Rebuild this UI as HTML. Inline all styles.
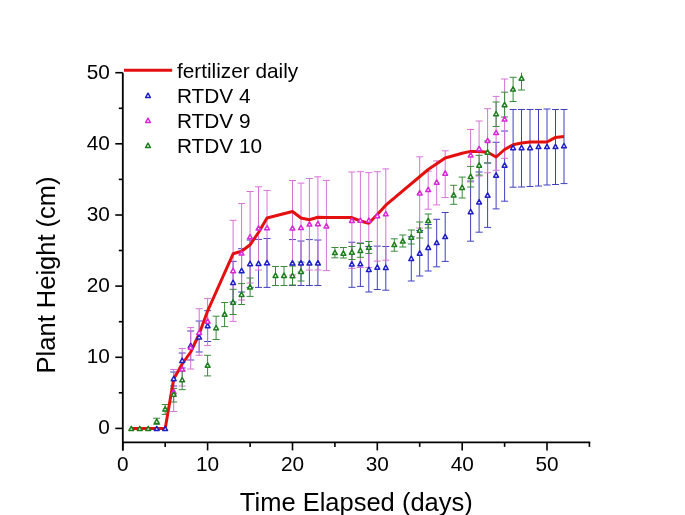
<!DOCTYPE html>
<html><head><meta charset="utf-8"><style>
html,body{margin:0;padding:0;background:#fff;width:685px;height:515px;overflow:hidden}
svg{display:block;will-change:transform}
text{font-family:"Liberation Sans",sans-serif}
</style></head><body>
<svg width="685" height="515" viewBox="0 0 685 515" font-family="'Liberation Sans', sans-serif" fill="#000">
<rect width="685" height="515" fill="#fff"/>
<path d="M122.8,72.7V450.5M122,442.4H590.3" stroke="#000" stroke-width="1.8" fill="none"/>
<path d="M115.3,428.4H122.8" stroke="#000" stroke-width="1.6"/>
<path d="M118.8,392.8H122.8" stroke="#000" stroke-width="1.6"/>
<path d="M115.3,357.3H122.8" stroke="#000" stroke-width="1.6"/>
<path d="M118.8,321.7H122.8" stroke="#000" stroke-width="1.6"/>
<path d="M115.3,286.1H122.8" stroke="#000" stroke-width="1.6"/>
<path d="M118.8,250.5H122.8" stroke="#000" stroke-width="1.6"/>
<path d="M115.3,215.0H122.8" stroke="#000" stroke-width="1.6"/>
<path d="M118.8,179.4H122.8" stroke="#000" stroke-width="1.6"/>
<path d="M115.3,143.8H122.8" stroke="#000" stroke-width="1.6"/>
<path d="M118.8,108.3H122.8" stroke="#000" stroke-width="1.6"/>
<path d="M115.3,72.7H122.8" stroke="#000" stroke-width="1.6"/>
<path d="M122.8,442.4V450.4" stroke="#000" stroke-width="1.6"/>
<path d="M165.2,442.4V446.9" stroke="#000" stroke-width="1.6"/>
<path d="M207.6,442.4V450.4" stroke="#000" stroke-width="1.6"/>
<path d="M250.1,442.4V446.9" stroke="#000" stroke-width="1.6"/>
<path d="M292.5,442.4V450.4" stroke="#000" stroke-width="1.6"/>
<path d="M334.9,442.4V446.9" stroke="#000" stroke-width="1.6"/>
<path d="M377.3,442.4V450.4" stroke="#000" stroke-width="1.6"/>
<path d="M419.7,442.4V446.9" stroke="#000" stroke-width="1.6"/>
<path d="M462.2,442.4V450.4" stroke="#000" stroke-width="1.6"/>
<path d="M504.6,442.4V446.9" stroke="#000" stroke-width="1.6"/>
<path d="M547.0,442.4V450.4" stroke="#000" stroke-width="1.6"/>
<path d="M589.4,442.4V446.9" stroke="#000" stroke-width="1.6"/>
<text x="109.9" y="434.2" text-anchor="end" font-size="20.8">0</text>
<text x="109.9" y="363.1" text-anchor="end" font-size="20.8">10</text>
<text x="109.9" y="291.9" text-anchor="end" font-size="20.8">20</text>
<text x="109.9" y="220.8" text-anchor="end" font-size="20.8">30</text>
<text x="109.9" y="149.6" text-anchor="end" font-size="20.8">40</text>
<text x="109.9" y="78.5" text-anchor="end" font-size="20.8">50</text>
<text x="122.8" y="471.3" text-anchor="middle" font-size="20.8">0</text>
<text x="207.6" y="471.3" text-anchor="middle" font-size="20.8">10</text>
<text x="292.5" y="471.3" text-anchor="middle" font-size="20.8">20</text>
<text x="377.3" y="471.3" text-anchor="middle" font-size="20.8">30</text>
<text x="462.2" y="471.3" text-anchor="middle" font-size="20.8">40</text>
<text x="547.0" y="471.3" text-anchor="middle" font-size="20.8">50</text>
<text x="356.3" y="511.3" text-anchor="middle" font-size="25.5">Time Elapsed (days)</text>
<text transform="translate(54.7,274.9) rotate(-90)" text-anchor="middle" font-size="25.5">Plant Height (cm)</text>
<path d="M173.7,372.0V386.0M170.2,372.0H177.2M170.2,386.0H177.2" stroke="#4040c0" stroke-width="1" fill="none"/>
<path d="M182.2,353.0V368.0M178.7,353.0H185.7M178.7,368.0H185.7" stroke="#4040c0" stroke-width="1" fill="none"/>
<path d="M190.7,331.0V360.0M187.2,331.0H194.2M187.2,360.0H194.2" stroke="#4040c0" stroke-width="1" fill="none"/>
<path d="M199.2,321.0V352.0M195.7,321.0H202.7M195.7,352.0H202.7" stroke="#4040c0" stroke-width="1" fill="none"/>
<path d="M207.6,310.7V341.5M204.1,310.7H211.1M204.1,341.5H211.1" stroke="#4040c0" stroke-width="1" fill="none"/>
<path d="M233.1,261.4V302.0M229.6,261.4H236.6M229.6,302.0H236.6" stroke="#4040c0" stroke-width="1" fill="none"/>
<path d="M241.6,248.7V292.0M238.1,248.7H245.1M238.1,292.0H245.1" stroke="#4040c0" stroke-width="1" fill="none"/>
<path d="M250.1,240.0V287.4M246.6,240.0H253.6M246.6,287.4H253.6" stroke="#4040c0" stroke-width="1" fill="none"/>
<path d="M258.5,239.4V287.4M255.0,239.4H262.0M255.0,287.4H262.0" stroke="#4040c0" stroke-width="1" fill="none"/>
<path d="M267.0,238.5V287.4M263.5,238.5H270.5M263.5,287.4H270.5" stroke="#4040c0" stroke-width="1" fill="none"/>
<path d="M292.5,239.6V285.5M289.0,239.6H296.0M289.0,285.5H296.0" stroke="#4040c0" stroke-width="1" fill="none"/>
<path d="M301.0,241.0V285.5M297.5,241.0H304.5M297.5,285.5H304.5" stroke="#4040c0" stroke-width="1" fill="none"/>
<path d="M309.4,239.6V285.5M305.9,239.6H312.9M305.9,285.5H312.9" stroke="#4040c0" stroke-width="1" fill="none"/>
<path d="M317.9,240.0V285.5M314.4,240.0H321.4M314.4,285.5H321.4" stroke="#4040c0" stroke-width="1" fill="none"/>
<path d="M351.9,242.2V287.3M348.4,242.2H355.4M348.4,287.3H355.4" stroke="#4040c0" stroke-width="1" fill="none"/>
<path d="M360.4,243.0V286.4M356.9,243.0H363.9M356.9,286.4H363.9" stroke="#4040c0" stroke-width="1" fill="none"/>
<path d="M368.8,246.5V292.0M365.3,246.5H372.3M365.3,292.0H372.3" stroke="#4040c0" stroke-width="1" fill="none"/>
<path d="M377.3,246.1V289.5M373.8,246.1H380.8M373.8,289.5H380.8" stroke="#4040c0" stroke-width="1" fill="none"/>
<path d="M385.8,246.5V290.2M382.3,246.5H389.3M382.3,290.2H389.3" stroke="#4040c0" stroke-width="1" fill="none"/>
<path d="M411.3,236.8V281.0M407.8,236.8H414.8M407.8,281.0H414.8" stroke="#4040c0" stroke-width="1" fill="none"/>
<path d="M419.7,230.5V276.0M416.2,230.5H423.2M416.2,276.0H423.2" stroke="#4040c0" stroke-width="1" fill="none"/>
<path d="M428.2,224.5V271.0M424.7,224.5H431.7M424.7,271.0H431.7" stroke="#4040c0" stroke-width="1" fill="none"/>
<path d="M436.7,219.3V266.8M433.2,219.3H440.2M433.2,266.8H440.2" stroke="#4040c0" stroke-width="1" fill="none"/>
<path d="M445.2,212.5V261.4M441.7,212.5H448.7M441.7,261.4H448.7" stroke="#4040c0" stroke-width="1" fill="none"/>
<path d="M470.6,181.0V241.2M467.1,181.0H474.1M467.1,241.2H474.1" stroke="#4040c0" stroke-width="1" fill="none"/>
<path d="M479.1,172.0V232.2M475.6,172.0H482.6M475.6,232.2H482.6" stroke="#4040c0" stroke-width="1" fill="none"/>
<path d="M487.6,163.0V227.4M484.1,163.0H491.1M484.1,227.4H491.1" stroke="#4040c0" stroke-width="1" fill="none"/>
<path d="M496.1,142.3V208.9M492.6,142.3H499.6M492.6,208.9H499.6" stroke="#4040c0" stroke-width="1" fill="none"/>
<path d="M504.6,131.0V201.2M501.1,131.0H508.1M501.1,201.2H508.1" stroke="#4040c0" stroke-width="1" fill="none"/>
<path d="M513.1,109.5V187.2M509.6,109.5H516.6M509.6,187.2H516.6" stroke="#4040c0" stroke-width="1" fill="none"/>
<path d="M521.5,109.5V187.0M518.0,109.5H525.0M518.0,187.0H525.0" stroke="#4040c0" stroke-width="1" fill="none"/>
<path d="M530.0,109.5V186.5M526.5,109.5H533.5M526.5,186.5H533.5" stroke="#4040c0" stroke-width="1" fill="none"/>
<path d="M538.5,109.5V186.0M535.0,109.5H542.0M535.0,186.0H542.0" stroke="#4040c0" stroke-width="1" fill="none"/>
<path d="M547.0,109.0V185.0M543.5,109.0H550.5M543.5,185.0H550.5" stroke="#4040c0" stroke-width="1" fill="none"/>
<path d="M555.5,109.5V184.5M552.0,109.5H559.0M552.0,184.5H559.0" stroke="#4040c0" stroke-width="1" fill="none"/>
<path d="M564.0,109.5V183.6M560.5,109.5H567.5M560.5,183.6H567.5" stroke="#4040c0" stroke-width="1" fill="none"/>
<path d="M173.7,369.5V411.5M170.2,369.5H177.2M170.2,411.5H177.2" stroke="#d673d6" stroke-width="1" fill="none"/>
<path d="M182.2,348.5V386.0M178.7,348.5H185.7M178.7,386.0H185.7" stroke="#d673d6" stroke-width="1" fill="none"/>
<path d="M190.7,327.6V369.0M187.2,327.6H194.2M187.2,369.0H194.2" stroke="#d673d6" stroke-width="1" fill="none"/>
<path d="M199.2,308.7V355.3M195.7,308.7H202.7M195.7,355.3H202.7" stroke="#d673d6" stroke-width="1" fill="none"/>
<path d="M207.6,298.4V345.6M204.1,298.4H211.1M204.1,345.6H211.1" stroke="#d673d6" stroke-width="1" fill="none"/>
<path d="M233.1,220.3V321.4M229.6,220.3H236.6M229.6,321.4H236.6" stroke="#d673d6" stroke-width="1" fill="none"/>
<path d="M241.6,203.5V300.0M238.1,203.5H245.1M238.1,300.0H245.1" stroke="#d673d6" stroke-width="1" fill="none"/>
<path d="M250.1,191.5V283.0M246.6,191.5H253.6M246.6,283.0H253.6" stroke="#d673d6" stroke-width="1" fill="none"/>
<path d="M258.5,186.8V270.0M255.0,186.8H262.0M255.0,270.0H262.0" stroke="#d673d6" stroke-width="1" fill="none"/>
<path d="M267.0,190.4V265.0M263.5,190.4H270.5M263.5,265.0H270.5" stroke="#d673d6" stroke-width="1" fill="none"/>
<path d="M292.5,180.5V275.0M289.0,180.5H296.0M289.0,275.0H296.0" stroke="#d673d6" stroke-width="1" fill="none"/>
<path d="M301.0,183.1V272.0M297.5,183.1H304.5M297.5,272.0H304.5" stroke="#d673d6" stroke-width="1" fill="none"/>
<path d="M309.4,178.5V270.0M305.9,178.5H312.9M305.9,270.0H312.9" stroke="#d673d6" stroke-width="1" fill="none"/>
<path d="M317.9,176.8V270.0M314.4,176.8H321.4M314.4,270.0H321.4" stroke="#d673d6" stroke-width="1" fill="none"/>
<path d="M326.4,180.4V270.6M322.9,180.4H329.9M322.9,270.6H329.9" stroke="#d673d6" stroke-width="1" fill="none"/>
<path d="M351.9,172.0V268.4M348.4,172.0H355.4M348.4,268.4H355.4" stroke="#d673d6" stroke-width="1" fill="none"/>
<path d="M360.4,171.7V267.5M356.9,171.7H363.9M356.9,267.5H363.9" stroke="#d673d6" stroke-width="1" fill="none"/>
<path d="M368.8,172.6V267.5M365.3,172.6H372.3M365.3,267.5H372.3" stroke="#d673d6" stroke-width="1" fill="none"/>
<path d="M377.3,171.7V261.1M373.8,171.7H380.8M373.8,261.1H380.8" stroke="#d673d6" stroke-width="1" fill="none"/>
<path d="M385.8,168.9V260.2M382.3,168.9H389.3M382.3,260.2H389.3" stroke="#d673d6" stroke-width="1" fill="none"/>
<path d="M419.7,156.8V228.0M416.2,156.8H423.2M416.2,228.0H423.2" stroke="#d673d6" stroke-width="1" fill="none"/>
<path d="M428.2,171.2V209.2M424.7,171.2H431.7M424.7,209.2H431.7" stroke="#d673d6" stroke-width="1" fill="none"/>
<path d="M436.7,160.9V204.9M433.2,160.9H440.2M433.2,204.9H440.2" stroke="#d673d6" stroke-width="1" fill="none"/>
<path d="M445.2,150.8V197.6M441.7,150.8H448.7M441.7,197.6H448.7" stroke="#d673d6" stroke-width="1" fill="none"/>
<path d="M470.6,129.5V182.0M467.1,129.5H474.1M467.1,182.0H474.1" stroke="#d673d6" stroke-width="1" fill="none"/>
<path d="M479.1,121.0V176.0M475.6,121.0H482.6M475.6,176.0H482.6" stroke="#d673d6" stroke-width="1" fill="none"/>
<path d="M487.6,108.7V172.8M484.1,108.7H491.1M484.1,172.8H491.1" stroke="#d673d6" stroke-width="1" fill="none"/>
<path d="M496.1,96.4V170.3M492.6,96.4H499.6M492.6,170.3H499.6" stroke="#d673d6" stroke-width="1" fill="none"/>
<path d="M504.6,79.0V158.3M501.1,79.0H508.1M501.1,158.3H508.1" stroke="#d673d6" stroke-width="1" fill="none"/>
<path d="M156.7,418.2V424.3M153.2,418.2H160.2M153.2,424.3H160.2" stroke="#3a8a3a" stroke-width="1" fill="none"/>
<path d="M165.2,404.5V414.4M161.7,404.5H168.7M161.7,414.4H168.7" stroke="#3a8a3a" stroke-width="1" fill="none"/>
<path d="M173.7,388.4V402.0M170.2,388.4H177.2M170.2,402.0H177.2" stroke="#3a8a3a" stroke-width="1" fill="none"/>
<path d="M182.2,371.0V389.7M178.7,371.0H185.7M178.7,389.7H185.7" stroke="#3a8a3a" stroke-width="1" fill="none"/>
<path d="M207.6,355.3V375.9M204.1,355.3H211.1M204.1,375.9H211.1" stroke="#3a8a3a" stroke-width="1" fill="none"/>
<path d="M216.1,316.2V339.5M212.6,316.2H219.6M212.6,339.5H219.6" stroke="#3a8a3a" stroke-width="1" fill="none"/>
<path d="M224.6,302.5V326.6M221.1,302.5H228.1M221.1,326.6H228.1" stroke="#3a8a3a" stroke-width="1" fill="none"/>
<path d="M233.1,289.3V314.5M229.6,289.3H236.6M229.6,314.5H236.6" stroke="#3a8a3a" stroke-width="1" fill="none"/>
<path d="M241.6,283.6V304.5M238.1,283.6H245.1M238.1,304.5H245.1" stroke="#3a8a3a" stroke-width="1" fill="none"/>
<path d="M250.1,278.0V296.4M246.6,278.0H253.6M246.6,296.4H253.6" stroke="#3a8a3a" stroke-width="1" fill="none"/>
<path d="M275.5,266.5V285.5M272.0,266.5H279.0M272.0,285.5H279.0" stroke="#3a8a3a" stroke-width="1" fill="none"/>
<path d="M284.0,266.5V285.5M280.5,266.5H287.5M280.5,285.5H287.5" stroke="#3a8a3a" stroke-width="1" fill="none"/>
<path d="M292.5,266.0V285.0M289.0,266.0H296.0M289.0,285.0H296.0" stroke="#3a8a3a" stroke-width="1" fill="none"/>
<path d="M301.0,262.0V281.0M297.5,262.0H304.5M297.5,281.0H304.5" stroke="#3a8a3a" stroke-width="1" fill="none"/>
<path d="M334.9,247.5V257.8M331.4,247.5H338.4M331.4,257.8H338.4" stroke="#3a8a3a" stroke-width="1" fill="none"/>
<path d="M343.4,247.5V258.0M339.9,247.5H346.9M339.9,258.0H346.9" stroke="#3a8a3a" stroke-width="1" fill="none"/>
<path d="M351.9,246.5V259.5M348.4,246.5H355.4M348.4,259.5H355.4" stroke="#3a8a3a" stroke-width="1" fill="none"/>
<path d="M360.4,243.5V257.3M356.9,243.5H363.9M356.9,257.3H363.9" stroke="#3a8a3a" stroke-width="1" fill="none"/>
<path d="M368.8,241.5V253.4M365.3,241.5H372.3M365.3,253.4H372.3" stroke="#3a8a3a" stroke-width="1" fill="none"/>
<path d="M394.3,238.8V251.2M390.8,238.8H397.8M390.8,251.2H397.8" stroke="#3a8a3a" stroke-width="1" fill="none"/>
<path d="M402.8,235.0V247.0M399.3,235.0H406.3M399.3,247.0H406.3" stroke="#3a8a3a" stroke-width="1" fill="none"/>
<path d="M411.3,230.0V244.0M407.8,230.0H414.8M407.8,244.0H414.8" stroke="#3a8a3a" stroke-width="1" fill="none"/>
<path d="M419.7,222.0V238.0M416.2,222.0H423.2M416.2,238.0H423.2" stroke="#3a8a3a" stroke-width="1" fill="none"/>
<path d="M428.2,214.0V228.0M424.7,214.0H431.7M424.7,228.0H431.7" stroke="#3a8a3a" stroke-width="1" fill="none"/>
<path d="M453.7,185.3V204.3M450.2,185.3H457.2M450.2,204.3H457.2" stroke="#3a8a3a" stroke-width="1" fill="none"/>
<path d="M462.2,177.1V198.0M458.7,177.1H465.7M458.7,198.0H465.7" stroke="#3a8a3a" stroke-width="1" fill="none"/>
<path d="M470.6,166.4V187.0M467.1,166.4H474.1M467.1,187.0H474.1" stroke="#3a8a3a" stroke-width="1" fill="none"/>
<path d="M479.1,155.3V175.0M475.6,155.3H482.6M475.6,175.0H482.6" stroke="#3a8a3a" stroke-width="1" fill="none"/>
<path d="M487.6,141.0V163.0M484.1,141.0H491.1M484.1,163.0H491.1" stroke="#3a8a3a" stroke-width="1" fill="none"/>
<path d="M496.1,102.0V126.5M492.6,102.0H499.6M492.6,126.5H499.6" stroke="#3a8a3a" stroke-width="1" fill="none"/>
<path d="M504.6,92.2V117.0M501.1,92.2H508.1M501.1,117.0H508.1" stroke="#3a8a3a" stroke-width="1" fill="none"/>
<path d="M513.1,77.3V101.5M509.6,77.3H516.6M509.6,101.5H516.6" stroke="#3a8a3a" stroke-width="1" fill="none"/>
<path d="M521.5,72.7V90.0M518.0,90.0H525.0" stroke="#3a8a3a" stroke-width="1" fill="none"/>
<path d="M131.3,428.4L139.8,428.4L148.3,428.4L156.7,428.4L165.2,428.4L173.7,379.0L182.2,364.0L190.7,352.0L199.2,334.0L207.6,311.0L233.1,253.8L241.6,251.2L250.1,244.8L258.5,232.5L267.0,218.0L292.5,211.5L301.0,218.0L309.4,219.8L317.9,217.3L326.4,217.4L351.9,217.6L360.4,221.0L368.8,223.2L377.3,214.5L385.8,205.2L428.2,169.5L445.2,158.0L462.2,153.2L470.6,151.4L479.1,151.4L487.6,152.3L496.1,157.0L504.6,149.5L513.1,144.7L521.5,143.0L530.0,142.0L538.5,142.0L547.0,142.0L555.5,137.4L564.0,136.6" stroke="#e41010" stroke-width="3.0" fill="none" stroke-linejoin="round"/>
<path d="M154.34,430.60L159.14,430.60L156.74,426.30Z" fill="#fff" stroke="#1e1ec8" stroke-width="1.5" stroke-linejoin="round"/>
<path d="M162.82,430.60L167.62,430.60L165.22,426.30Z" fill="#fff" stroke="#1e1ec8" stroke-width="1.5" stroke-linejoin="round"/>
<path d="M171.30,380.70L176.10,380.70L173.70,376.40Z" fill="#fff" stroke="#1e1ec8" stroke-width="1.5" stroke-linejoin="round"/>
<path d="M179.79,362.50L184.59,362.50L182.19,358.20Z" fill="#fff" stroke="#1e1ec8" stroke-width="1.5" stroke-linejoin="round"/>
<path d="M188.27,347.70L193.07,347.70L190.67,343.40Z" fill="#fff" stroke="#1e1ec8" stroke-width="1.5" stroke-linejoin="round"/>
<path d="M196.76,339.00L201.56,339.00L199.16,334.70Z" fill="#fff" stroke="#1e1ec8" stroke-width="1.5" stroke-linejoin="round"/>
<path d="M205.24,327.70L210.04,327.70L207.64,323.40Z" fill="#fff" stroke="#1e1ec8" stroke-width="1.5" stroke-linejoin="round"/>
<path d="M230.69,284.50L235.49,284.50L233.09,280.20Z" fill="#fff" stroke="#1e1ec8" stroke-width="1.5" stroke-linejoin="round"/>
<path d="M239.18,272.70L243.98,272.70L241.58,268.40Z" fill="#fff" stroke="#1e1ec8" stroke-width="1.5" stroke-linejoin="round"/>
<path d="M247.66,265.70L252.46,265.70L250.06,261.40Z" fill="#fff" stroke="#1e1ec8" stroke-width="1.5" stroke-linejoin="round"/>
<path d="M256.14,265.40L260.94,265.40L258.54,261.10Z" fill="#fff" stroke="#1e1ec8" stroke-width="1.5" stroke-linejoin="round"/>
<path d="M264.63,264.70L269.43,264.70L267.03,260.40Z" fill="#fff" stroke="#1e1ec8" stroke-width="1.5" stroke-linejoin="round"/>
<path d="M290.08,264.90L294.88,264.90L292.48,260.60Z" fill="#fff" stroke="#1e1ec8" stroke-width="1.5" stroke-linejoin="round"/>
<path d="M298.56,264.90L303.36,264.90L300.96,260.60Z" fill="#fff" stroke="#1e1ec8" stroke-width="1.5" stroke-linejoin="round"/>
<path d="M307.05,264.90L311.85,264.90L309.45,260.60Z" fill="#fff" stroke="#1e1ec8" stroke-width="1.5" stroke-linejoin="round"/>
<path d="M315.53,264.90L320.33,264.90L317.93,260.60Z" fill="#fff" stroke="#1e1ec8" stroke-width="1.5" stroke-linejoin="round"/>
<path d="M349.47,266.00L354.27,266.00L351.87,261.70Z" fill="#fff" stroke="#1e1ec8" stroke-width="1.5" stroke-linejoin="round"/>
<path d="M357.95,265.80L362.75,265.80L360.35,261.50Z" fill="#fff" stroke="#1e1ec8" stroke-width="1.5" stroke-linejoin="round"/>
<path d="M366.44,271.50L371.24,271.50L368.84,267.20Z" fill="#fff" stroke="#1e1ec8" stroke-width="1.5" stroke-linejoin="round"/>
<path d="M374.92,269.20L379.72,269.20L377.32,264.90Z" fill="#fff" stroke="#1e1ec8" stroke-width="1.5" stroke-linejoin="round"/>
<path d="M383.40,269.50L388.20,269.50L385.80,265.20Z" fill="#fff" stroke="#1e1ec8" stroke-width="1.5" stroke-linejoin="round"/>
<path d="M408.86,260.50L413.66,260.50L411.26,256.20Z" fill="#fff" stroke="#1e1ec8" stroke-width="1.5" stroke-linejoin="round"/>
<path d="M417.34,255.20L422.14,255.20L419.74,250.90Z" fill="#fff" stroke="#1e1ec8" stroke-width="1.5" stroke-linejoin="round"/>
<path d="M425.82,249.40L430.62,249.40L428.22,245.10Z" fill="#fff" stroke="#1e1ec8" stroke-width="1.5" stroke-linejoin="round"/>
<path d="M434.31,244.60L439.11,244.60L436.71,240.30Z" fill="#fff" stroke="#1e1ec8" stroke-width="1.5" stroke-linejoin="round"/>
<path d="M442.79,238.60L447.59,238.60L445.19,234.30Z" fill="#fff" stroke="#1e1ec8" stroke-width="1.5" stroke-linejoin="round"/>
<path d="M468.24,213.70L473.04,213.70L470.64,209.40Z" fill="#fff" stroke="#1e1ec8" stroke-width="1.5" stroke-linejoin="round"/>
<path d="M476.73,203.90L481.53,203.90L479.13,199.60Z" fill="#fff" stroke="#1e1ec8" stroke-width="1.5" stroke-linejoin="round"/>
<path d="M485.21,197.20L490.01,197.20L487.61,192.90Z" fill="#fff" stroke="#1e1ec8" stroke-width="1.5" stroke-linejoin="round"/>
<path d="M493.70,177.20L498.50,177.20L496.10,172.90Z" fill="#fff" stroke="#1e1ec8" stroke-width="1.5" stroke-linejoin="round"/>
<path d="M502.18,167.20L506.98,167.20L504.58,162.90Z" fill="#fff" stroke="#1e1ec8" stroke-width="1.5" stroke-linejoin="round"/>
<path d="M510.66,149.70L515.46,149.70L513.06,145.40Z" fill="#fff" stroke="#1e1ec8" stroke-width="1.5" stroke-linejoin="round"/>
<path d="M519.15,149.70L523.95,149.70L521.55,145.40Z" fill="#fff" stroke="#1e1ec8" stroke-width="1.5" stroke-linejoin="round"/>
<path d="M527.63,149.70L532.43,149.70L530.03,145.40Z" fill="#fff" stroke="#1e1ec8" stroke-width="1.5" stroke-linejoin="round"/>
<path d="M536.12,148.60L540.92,148.60L538.52,144.30Z" fill="#fff" stroke="#1e1ec8" stroke-width="1.5" stroke-linejoin="round"/>
<path d="M544.60,148.60L549.40,148.60L547.00,144.30Z" fill="#fff" stroke="#1e1ec8" stroke-width="1.5" stroke-linejoin="round"/>
<path d="M553.08,148.60L557.88,148.60L555.48,144.30Z" fill="#fff" stroke="#1e1ec8" stroke-width="1.5" stroke-linejoin="round"/>
<path d="M561.57,147.80L566.37,147.80L563.97,143.50Z" fill="#fff" stroke="#1e1ec8" stroke-width="1.5" stroke-linejoin="round"/>
<path d="M171.30,393.70L176.10,393.70L173.70,389.40Z" fill="#fff" stroke="#d926d9" stroke-width="1.5" stroke-linejoin="round"/>
<path d="M179.79,370.90L184.59,370.90L182.19,366.60Z" fill="#fff" stroke="#d926d9" stroke-width="1.5" stroke-linejoin="round"/>
<path d="M188.27,349.20L193.07,349.20L190.67,344.90Z" fill="#fff" stroke="#d926d9" stroke-width="1.5" stroke-linejoin="round"/>
<path d="M196.76,334.50L201.56,334.50L199.16,330.20Z" fill="#fff" stroke="#d926d9" stroke-width="1.5" stroke-linejoin="round"/>
<path d="M205.24,323.20L210.04,323.20L207.64,318.90Z" fill="#fff" stroke="#d926d9" stroke-width="1.5" stroke-linejoin="round"/>
<path d="M230.69,272.70L235.49,272.70L233.09,268.40Z" fill="#fff" stroke="#d926d9" stroke-width="1.5" stroke-linejoin="round"/>
<path d="M239.18,255.10L243.98,255.10L241.58,250.80Z" fill="#fff" stroke="#d926d9" stroke-width="1.5" stroke-linejoin="round"/>
<path d="M247.66,238.80L252.46,238.80L250.06,234.50Z" fill="#fff" stroke="#d926d9" stroke-width="1.5" stroke-linejoin="round"/>
<path d="M256.14,230.10L260.94,230.10L258.54,225.80Z" fill="#fff" stroke="#d926d9" stroke-width="1.5" stroke-linejoin="round"/>
<path d="M264.63,229.80L269.43,229.80L267.03,225.50Z" fill="#fff" stroke="#d926d9" stroke-width="1.5" stroke-linejoin="round"/>
<path d="M290.08,230.10L294.88,230.10L292.48,225.80Z" fill="#fff" stroke="#d926d9" stroke-width="1.5" stroke-linejoin="round"/>
<path d="M298.56,229.60L303.36,229.60L300.96,225.30Z" fill="#fff" stroke="#d926d9" stroke-width="1.5" stroke-linejoin="round"/>
<path d="M307.05,226.10L311.85,226.10L309.45,221.80Z" fill="#fff" stroke="#d926d9" stroke-width="1.5" stroke-linejoin="round"/>
<path d="M315.53,225.70L320.33,225.70L317.93,221.40Z" fill="#fff" stroke="#d926d9" stroke-width="1.5" stroke-linejoin="round"/>
<path d="M324.02,228.00L328.82,228.00L326.42,223.70Z" fill="#fff" stroke="#d926d9" stroke-width="1.5" stroke-linejoin="round"/>
<path d="M349.47,222.40L354.27,222.40L351.87,218.10Z" fill="#fff" stroke="#d926d9" stroke-width="1.5" stroke-linejoin="round"/>
<path d="M357.95,222.30L362.75,222.30L360.35,218.00Z" fill="#fff" stroke="#d926d9" stroke-width="1.5" stroke-linejoin="round"/>
<path d="M366.44,222.30L371.24,222.30L368.84,218.00Z" fill="#fff" stroke="#d926d9" stroke-width="1.5" stroke-linejoin="round"/>
<path d="M374.92,217.70L379.72,217.70L377.32,213.40Z" fill="#fff" stroke="#d926d9" stroke-width="1.5" stroke-linejoin="round"/>
<path d="M383.40,215.80L388.20,215.80L385.80,211.50Z" fill="#fff" stroke="#d926d9" stroke-width="1.5" stroke-linejoin="round"/>
<path d="M417.34,194.90L422.14,194.90L419.74,190.60Z" fill="#fff" stroke="#d926d9" stroke-width="1.5" stroke-linejoin="round"/>
<path d="M425.82,191.60L430.62,191.60L428.22,187.30Z" fill="#fff" stroke="#d926d9" stroke-width="1.5" stroke-linejoin="round"/>
<path d="M434.31,184.20L439.11,184.20L436.71,179.90Z" fill="#fff" stroke="#d926d9" stroke-width="1.5" stroke-linejoin="round"/>
<path d="M442.79,175.20L447.59,175.20L445.19,170.90Z" fill="#fff" stroke="#d926d9" stroke-width="1.5" stroke-linejoin="round"/>
<path d="M468.24,157.00L473.04,157.00L470.64,152.70Z" fill="#fff" stroke="#d926d9" stroke-width="1.5" stroke-linejoin="round"/>
<path d="M476.73,150.70L481.53,150.70L479.13,146.40Z" fill="#fff" stroke="#d926d9" stroke-width="1.5" stroke-linejoin="round"/>
<path d="M485.21,142.60L490.01,142.60L487.61,138.30Z" fill="#fff" stroke="#d926d9" stroke-width="1.5" stroke-linejoin="round"/>
<path d="M493.70,134.60L498.50,134.60L496.10,130.30Z" fill="#fff" stroke="#d926d9" stroke-width="1.5" stroke-linejoin="round"/>
<path d="M502.18,121.00L506.98,121.00L504.58,116.70Z" fill="#fff" stroke="#d926d9" stroke-width="1.5" stroke-linejoin="round"/>
<path d="M128.88,430.60L133.68,430.60L131.28,426.30Z" fill="#fff" stroke="#1b7d1b" stroke-width="1.5" stroke-linejoin="round"/>
<path d="M137.37,430.60L142.17,430.60L139.77,426.30Z" fill="#fff" stroke="#1b7d1b" stroke-width="1.5" stroke-linejoin="round"/>
<path d="M145.85,430.60L150.65,430.60L148.25,426.30Z" fill="#fff" stroke="#1b7d1b" stroke-width="1.5" stroke-linejoin="round"/>
<path d="M154.34,423.40L159.14,423.40L156.74,419.10Z" fill="#fff" stroke="#1b7d1b" stroke-width="1.5" stroke-linejoin="round"/>
<path d="M162.82,411.00L167.62,411.00L165.22,406.70Z" fill="#fff" stroke="#1b7d1b" stroke-width="1.5" stroke-linejoin="round"/>
<path d="M171.30,396.20L176.10,396.20L173.70,391.90Z" fill="#fff" stroke="#1b7d1b" stroke-width="1.5" stroke-linejoin="round"/>
<path d="M179.79,381.80L184.59,381.80L182.19,377.50Z" fill="#fff" stroke="#1b7d1b" stroke-width="1.5" stroke-linejoin="round"/>
<path d="M205.24,367.20L210.04,367.20L207.64,362.90Z" fill="#fff" stroke="#1b7d1b" stroke-width="1.5" stroke-linejoin="round"/>
<path d="M213.72,329.80L218.52,329.80L216.12,325.50Z" fill="#fff" stroke="#1b7d1b" stroke-width="1.5" stroke-linejoin="round"/>
<path d="M222.21,316.20L227.01,316.20L224.61,311.90Z" fill="#fff" stroke="#1b7d1b" stroke-width="1.5" stroke-linejoin="round"/>
<path d="M230.69,304.20L235.49,304.20L233.09,299.90Z" fill="#fff" stroke="#1b7d1b" stroke-width="1.5" stroke-linejoin="round"/>
<path d="M239.18,296.40L243.98,296.40L241.58,292.10Z" fill="#fff" stroke="#1b7d1b" stroke-width="1.5" stroke-linejoin="round"/>
<path d="M247.66,289.00L252.46,289.00L250.06,284.70Z" fill="#fff" stroke="#1b7d1b" stroke-width="1.5" stroke-linejoin="round"/>
<path d="M273.11,277.40L277.91,277.40L275.51,273.10Z" fill="#fff" stroke="#1b7d1b" stroke-width="1.5" stroke-linejoin="round"/>
<path d="M281.60,277.40L286.40,277.40L284.00,273.10Z" fill="#fff" stroke="#1b7d1b" stroke-width="1.5" stroke-linejoin="round"/>
<path d="M290.08,277.70L294.88,277.70L292.48,273.40Z" fill="#fff" stroke="#1b7d1b" stroke-width="1.5" stroke-linejoin="round"/>
<path d="M298.56,273.40L303.36,273.40L300.96,269.10Z" fill="#fff" stroke="#1b7d1b" stroke-width="1.5" stroke-linejoin="round"/>
<path d="M332.50,254.60L337.30,254.60L334.90,250.30Z" fill="#fff" stroke="#1b7d1b" stroke-width="1.5" stroke-linejoin="round"/>
<path d="M340.98,255.20L345.78,255.20L343.38,250.90Z" fill="#fff" stroke="#1b7d1b" stroke-width="1.5" stroke-linejoin="round"/>
<path d="M349.47,254.20L354.27,254.20L351.87,249.90Z" fill="#fff" stroke="#1b7d1b" stroke-width="1.5" stroke-linejoin="round"/>
<path d="M357.95,252.50L362.75,252.50L360.35,248.20Z" fill="#fff" stroke="#1b7d1b" stroke-width="1.5" stroke-linejoin="round"/>
<path d="M366.44,249.30L371.24,249.30L368.84,245.00Z" fill="#fff" stroke="#1b7d1b" stroke-width="1.5" stroke-linejoin="round"/>
<path d="M391.89,246.60L396.69,246.60L394.29,242.30Z" fill="#fff" stroke="#1b7d1b" stroke-width="1.5" stroke-linejoin="round"/>
<path d="M400.37,243.10L405.17,243.10L402.77,238.80Z" fill="#fff" stroke="#1b7d1b" stroke-width="1.5" stroke-linejoin="round"/>
<path d="M408.86,239.20L413.66,239.20L411.26,234.90Z" fill="#fff" stroke="#1b7d1b" stroke-width="1.5" stroke-linejoin="round"/>
<path d="M417.34,232.30L422.14,232.30L419.74,228.00Z" fill="#fff" stroke="#1b7d1b" stroke-width="1.5" stroke-linejoin="round"/>
<path d="M425.82,222.60L430.62,222.60L428.22,218.30Z" fill="#fff" stroke="#1b7d1b" stroke-width="1.5" stroke-linejoin="round"/>
<path d="M451.28,197.00L456.08,197.00L453.68,192.70Z" fill="#fff" stroke="#1b7d1b" stroke-width="1.5" stroke-linejoin="round"/>
<path d="M459.76,189.50L464.56,189.50L462.16,185.20Z" fill="#fff" stroke="#1b7d1b" stroke-width="1.5" stroke-linejoin="round"/>
<path d="M468.24,178.50L473.04,178.50L470.64,174.20Z" fill="#fff" stroke="#1b7d1b" stroke-width="1.5" stroke-linejoin="round"/>
<path d="M476.73,167.20L481.53,167.20L479.13,162.90Z" fill="#fff" stroke="#1b7d1b" stroke-width="1.5" stroke-linejoin="round"/>
<path d="M485.21,154.20L490.01,154.20L487.61,149.90Z" fill="#fff" stroke="#1b7d1b" stroke-width="1.5" stroke-linejoin="round"/>
<path d="M493.70,115.80L498.50,115.80L496.10,111.50Z" fill="#fff" stroke="#1b7d1b" stroke-width="1.5" stroke-linejoin="round"/>
<path d="M502.18,106.70L506.98,106.70L504.58,102.40Z" fill="#fff" stroke="#1b7d1b" stroke-width="1.5" stroke-linejoin="round"/>
<path d="M510.66,91.10L515.46,91.10L513.06,86.80Z" fill="#fff" stroke="#1b7d1b" stroke-width="1.5" stroke-linejoin="round"/>
<path d="M519.15,80.20L523.95,80.20L521.55,75.90Z" fill="#fff" stroke="#1b7d1b" stroke-width="1.5" stroke-linejoin="round"/>
<path d="M124,70.2H172.2" stroke="#e41010" stroke-width="3.0"/>
<text x="176.9" y="77.8" font-size="20.8">fertilizer daily</text>
<path d="M145.60,97.50L150.40,97.50L148.00,93.20Z" fill="#fff" stroke="#1e1ec8" stroke-width="1.5" stroke-linejoin="round"/>
<text x="176.9" y="102.6" font-size="20.8">RTDV 4</text>
<path d="M145.60,122.50L150.40,122.50L148.00,118.20Z" fill="#fff" stroke="#d926d9" stroke-width="1.5" stroke-linejoin="round"/>
<text x="176.9" y="127.6" font-size="20.8">RTDV 9</text>
<path d="M145.60,147.50L150.40,147.50L148.00,143.20Z" fill="#fff" stroke="#1b7d1b" stroke-width="1.5" stroke-linejoin="round"/>
<text x="176.9" y="152.6" font-size="20.8">RTDV 10</text>
</svg>
</body></html>
